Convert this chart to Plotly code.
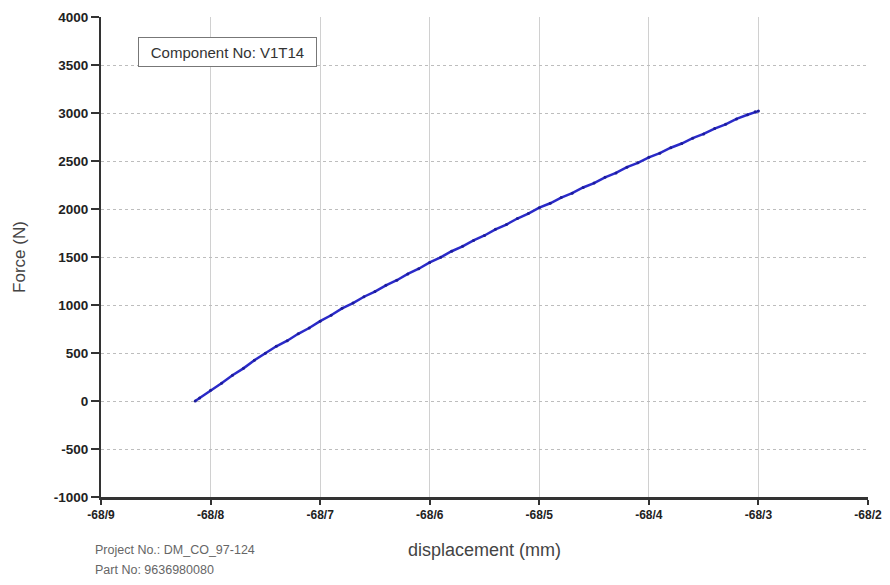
import plotly.graph_objects as go

displacement_mm = [-68.814, -68.81, -68.80, -68.79, -68.78, -68.77, -68.76, -68.75, -68.74, -68.73,
                   -68.72, -68.71, -68.70, -68.69, -68.68, -68.67, -68.66, -68.65, -68.64, -68.63,
                   -68.62, -68.61, -68.60, -68.59, -68.58, -68.57, -68.56, -68.55, -68.54, -68.53,
                   -68.52, -68.51, -68.50, -68.49, -68.48, -68.47, -68.46, -68.45, -68.44, -68.43,
                   -68.42, -68.41, -68.40, -68.39, -68.38, -68.37, -68.36, -68.35, -68.34, -68.33,
                   -68.32, -68.31, -68.303, -68.30]
force_N = [0, 30, 112, 185, 268, 340, 425, 498, 570, 628,
           700, 760, 832, 893, 965, 1020, 1086, 1140, 1205, 1258,
           1324, 1378, 1444, 1497, 1560, 1611, 1673, 1724, 1788, 1838,
           1901, 1952, 2014, 2060, 2119, 2165, 2224, 2270, 2330, 2376,
           2436, 2481, 2538, 2582, 2638, 2682, 2738, 2782, 2838, 2882,
           2938, 2982, 3012, 3020]

x_tick_vals = [-68.9, -68.8, -68.7, -68.6, -68.5, -68.4, -68.3, -68.2]
x_tick_text = ["-68/9", "-68/8", "-68/7", "-68/6", "-68/5", "-68/4", "-68/3", "-68/2"]
y_tick_vals = [-1000, -500, 0, 500, 1000, 1500, 2000, 2500, 3000, 3500, 4000]
y_tick_text = ["-1000", "-500", "0", "500", "1000", "1500", "2000", "2500", "3000", "3500", "4000"]

component_label = "Component No: V1T14"
project_label = "Project No.: DM_CO_97-124"
part_label = "Part No: 9636980080"

fig = go.Figure()
fig.add_trace(go.Scatter(
    x=displacement_mm, y=force_N, mode="lines+markers",
    line=dict(color="#2a2ac8", width=2.5),
    marker=dict(size=3, color="#1c1c9a"),
    showlegend=False,
))

font_family = "Liberation Sans, Arial, sans-serif"

fig.update_layout(
    width=890, height=585,
    margin=dict(l=101, r=22, t=17, b=88),
    paper_bgcolor="white", plot_bgcolor="white",
    font=dict(family=font_family, color="#222"),
    xaxis=dict(
        range=[-68.9, -68.2], tickvals=x_tick_vals, ticktext=x_tick_text,
        tickfont=dict(size=12, weight="bold", color="#222"),
        showgrid=True, gridcolor="#d0d0d0", gridwidth=1,
        showline=True, linecolor="#333", linewidth=3,
        ticks="outside", ticklen=5, tickwidth=2, tickcolor="#333",
        zeroline=False, automargin=False,
        title=dict(text="displacement (mm)", font=dict(size=18, color="#444"), standoff=22),
    ),
    yaxis=dict(
        range=[-1000, 4000], tickvals=y_tick_vals, ticktext=y_tick_text,
        tickfont=dict(size=13.5, weight="bold", color="#222"),
        showgrid=True, gridcolor="#bdbdbd", gridwidth=1, griddash="dot",
        showline=True, linecolor="#333", linewidth=2,
        ticks="outside", ticklen=8, tickwidth=2, tickcolor="#333",
        zeroline=False, automargin=False,
        title=dict(text="Force (N)", font=dict(size=17, color="#444"), standoff=24),
    ),
)

fig.add_annotation(
    xref="paper", yref="paper", x=0.048, y=0.958, xanchor="left", yanchor="top",
    text=component_label, showarrow=False,
    font=dict(size=15, color="#333"), width=171, height=22, align="center",
    bordercolor="#777", borderwidth=1, borderpad=3, bgcolor="white",
)
fig.add_annotation(
    xref="paper", yref="paper", x=-0.01, y=-0.11, xanchor="left", yanchor="middle",
    text=project_label, showarrow=False, font=dict(size=12.5, color="#666"),
)
fig.add_annotation(
    xref="paper", yref="paper", x=-0.01, y=-0.152, xanchor="left", yanchor="middle",
    text=part_label, showarrow=False, font=dict(size=12.5, color="#666"),
)

fig.write_html("out.html", config={"displayModeBar": False},
               post_script="document.body.style.margin='0';")
